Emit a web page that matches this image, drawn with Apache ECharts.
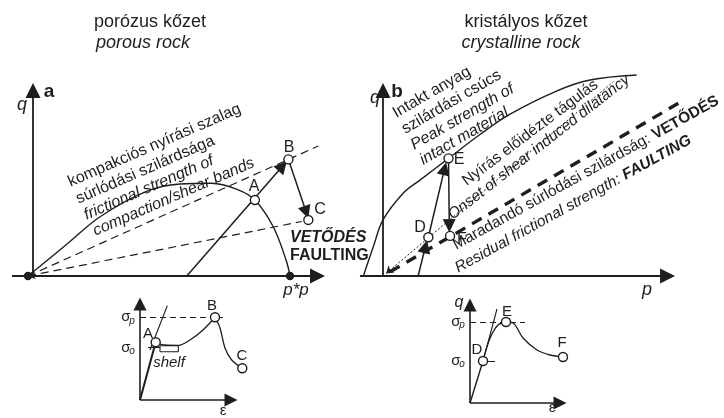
<!DOCTYPE html>
<html>
<head>
<meta charset="utf-8">
<script src="https://cdn.jsdelivr.net/npm/echarts@6/dist/echarts.min.js"></script>
<style>
html, body { margin: 0; padding: 0; background: #fff; }
#main { width: 724px; height: 418px; }
</style>
</head>
<body>
<div id="main"></div>
<script>
var INK = '#1e1e1e';
var FONT = '"Liberation Sans", Arial, sans-serif';

// ---- panel a: porous rock (p and q scaled by p*) ----
var axisA = [[[-0.061, 0], [1.105, 0]], [[0.019, 0], [0.019, 0.708]]];
var capA = [[0, 0], [0.148, 0.121], [0.275, 0.226], [0.45, 0.322], [0.58, 0.351], [0.70, 0.354],
            [0.80, 0.330], [0.866, 0.29], [0.936, 0.188], [0.985, 0.061], [1, 0]];
var frictionA = [[[0, 0], [1.108, 0.496]], [[0, 0], [1.045, 0.208]]];
var pathA = [[[0.606, 0], [0.972, 0.42]], [[0.994, 0.445], [1.062, 0.243]]];
var pointsA = [[0.866, 0.29], [0.994, 0.445], [1.07, 0.214]];
var dotsA = [[0, 0], [1, 0]];

// ---- panel b: crystalline rock ----
var axisB = [[[-0.088, 0], [1.086, 0]], [[0, 0], [0, 0.708]]];
var peakB = [[-0.075, 0], [-0.037, 0.112], [0, 0.214], [0.077, 0.316], [0.141, 0.366], [0.25, 0.449],
             [0.37, 0.54], [0.48, 0.615], [0.66, 0.705], [0.79, 0.748], [0.968, 0.767]];
var dilatancyB = [[0.012, 0.01], [0.88, 0.742]];
var residualB = [[0.027, 0.016], [1.127, 0.659]];
var pathB = [[[0.134, 0], [0.162, 0.112]], [[0.173, 0.148], [0.235, 0.41]], [[0.25, 0.449], [0.253, 0.192]]];
var pointsB = [[0.173, 0.148], [0.25, 0.449], [0.256, 0.153]];

// ---- small q-epsilon sketches ----
var insetAxisA = [[[0, 0], [0.91, 0]], [[0, 0], [0, 0.96]]];
var riseA = [[0, 0], [0.157, 0.577]];
var hardenA = [[0.157, 0.577], [0.25, 0.55], [0.383, 0.547], [0.5, 0.6], [0.63, 0.7], [0.75, 0.827]];
var softenA = [[0.75, 0.827], [0.80, 0.72], [0.85, 0.52], [0.917, 0.40], [1.023, 0.317]];
var tangentA = [[0.10, 0.50], [0.273, 0.943]];
var tickA = [[0.08, 0.523], [0.20, 0.523]];
var shelfA = [[0.20, 0.483], [0.383, 0.483], [0.383, 0.543], [0.20, 0.543], [0.20, 0.483]];
var sigmaPA = [[0, 0.827], [0.83, 0.827]];
var insetPointsA = [[0.157, 0.577], [0.75, 0.827], [1.023, 0.317]];

var insetAxisB = [[[0, 0], [0.90, 0]], [[0, 0], [0, 0.98]]];
var riseB = [[0, 0], [0.13, 0.42]];
var hardenB = [[0.13, 0.42], [0.20, 0.647], [0.28, 0.78], [0.36, 0.81]];
var softenB = [[0.36, 0.81], [0.43, 0.80], [0.53, 0.65], [0.67, 0.53], [0.80, 0.48], [0.93, 0.46]];
var tangentB = [[0.13, 0.42], [0.27, 0.94]];
var tickB = [[0.13, 0.42], [0.25, 0.42]];
var sigmaPB = [[0, 0.81], [0.55, 0.81]];
var insetPointsB = [[0.13, 0.42], [0.36, 0.81], [0.93, 0.46]];

var chart = echarts.init(document.getElementById('main'), null, { renderer: 'canvas' });

function segs(gi, list, style, sym, size) {
    return {
        type: 'lines', coordinateSystem: 'cartesian2d', xAxisIndex: gi, yAxisIndex: gi,
        data: list.map(function (c) { return { coords: c }; }),
        lineStyle: Object.assign({ color: INK, width: 1.5, opacity: 1, curveness: 0 }, style),
        symbol: sym || 'none', symbolSize: size || 10, silent: true, z: 3
    };
}
function curve(gi, data, width, type) {
    return {
        type: 'line', xAxisIndex: gi, yAxisIndex: gi, data: data, smooth: 0.35,
        showSymbol: false, symbol: 'none', silent: true, clip: false, z: 2,
        lineStyle: { color: INK, width: width || 1.4, type: type || 'solid' }
    };
}
function dots(gi, data, size, fill) {
    return {
        type: 'scatter', xAxisIndex: gi, yAxisIndex: gi, data: data, symbolSize: size,
        silent: true, z: 6,
        itemStyle: { color: fill, borderColor: INK, borderWidth: 1.4, opacity: 1 }
    };
}

function rich(size) {
    return {
        n: { fontSize: size, fontFamily: FONT, fill: INK },
        i: { fontSize: size, fontFamily: FONT, fontStyle: 'italic', fill: INK },
        b: { fontSize: size, fontFamily: FONT, fontWeight: 'bold', fill: INK },
        bi: { fontSize: size, fontFamily: FONT, fontWeight: 'bold', fontStyle: 'italic', fill: INK }
    };
}
function label(text, x, y, size, align, rot) {
    var va = rot ? 'bottom' : 'middle';
    return {
        type: 'text', x: x, y: y, rotation: (rot || 0) * Math.PI / 180, silent: true, z: 10,
        style: {
            text: text, fill: INK, fontSize: size, fontFamily: FONT,
            align: align || 'center', verticalAlign: va,
            textAlign: align || 'center', textVerticalAlign: va,
            rich: rich(size)
        }
    };
}

var texts = [
    label('{n|porózus kőzet}', 150, 22, 18),
    label('{i|porous rock}', 143, 43, 18),
    label('{n|kristályos kőzet}', 526, 22, 18),
    label('{i|crystalline rock}', 521, 43, 18),

    label('{i|q}', 22, 105, 18),
    label('{b|a}', 49, 92, 19),
    label('{n|A}', 254, 187, 16),
    label('{n|B}', 289, 148, 16),
    label('{n|C}', 320, 210, 16),
    label('{bi|VETŐDÉS}', 290, 238, 16, 'left'),
    label('{b|FAULTING}', 290, 256, 16, 'left'),
    label('{i|p*p}', 296, 290, 17),
    label('{n|kompakciós nyírási szalag}', 72, 190, 16, 'left', 23.5),
    label('{n|súrlódási szilárdsága}', 80, 207, 16, 'left', 23.5),
    label('{i|frictional strength of}', 88, 223, 16, 'left', 23.5),
    label('{i|compaction/shear bands}', 97, 239, 16, 'left', 23.5),

    label('{i|q}', 375, 98, 18),
    label('{b|b}', 397, 92, 19),
    label('{i|p}', 647, 290, 18),
    label('{n|D}', 420, 228, 16),
    label('{n|E}', 459, 160, 16),
    label('{n|F}', 462, 240, 16),
    label('{n|Intakt anyag}', 398, 121, 16, 'left', 30),
    label('{n|szilárdási csúcs}', 407, 137, 16, 'left', 30),
    label('{i|Peak strength of}', 416, 153, 16, 'left', 30),
    label('{i|intact material}', 425, 168, 16, 'left', 30),
    label('{n|Nyírás előidézte tágulás}', 469, 189, 15.5, 'left', 37),
    label('{i|Onset of shear induced dilatancy}', 455, 223, 15.5, 'left', 38),
    label('{n|Maradandó súrlódási szilárdság: }{b|VETŐDÉS}', 458, 253, 15.5, 'left', 29),
    label('{i|Residual frictional strength: }{bi|FAULTING}', 460, 276, 15.5, 'left', 29),

    label('{n|σ}', 126, 317, 15),
    label('{i|p}', 132, 321, 10),
    label('{n|σ}', 126, 348, 15),
    label('{i|o}', 132, 351, 10),
    label('{n|A}', 148, 334, 15),
    label('{n|B}', 212, 306, 15),
    label('{n|C}', 242, 356, 15),
    label('{i|shelf}', 169, 363, 15),
    label('{n|ε}', 223, 411, 15),

    label('{i|q}', 459, 303, 16),
    label('{n|σ}', 456, 322, 15),
    label('{i|p}', 462, 325, 10),
    label('{n|σ}', 456, 361, 15),
    label('{i|o}', 462, 364, 10),
    label('{n|D}', 477, 350, 15),
    label('{n|E}', 507, 312, 15),
    label('{n|F}', 562, 343, 15),
    label('{n|ε}', 552, 408, 15)
];

function ax(min, max) {
    return { type: 'value', min: min, max: max, show: false, splitLine: { show: false } };
}

chart.setOption({
    animation: false,
    backgroundColor: '#fff',
    grid: [
        { left: 1.8, top: 79.5, width: 340.6, height: 222.7 },
        { left: 356.8, top: 66.4, width: 353.7, height: 235.8 },
        { left: 120, top: 290, width: 140, height: 120 },
        { left: 450, top: 293, width: 140, height: 120 }
    ],
    xAxis: [ax(-0.1, 1.2), ax(-0.1, 1.25), ax(-0.2, 1.2), ax(-0.2, 1.2)].map(function (a, i) { a.gridIndex = i; return a; }),
    yAxis: [ax(-0.1, 0.75), ax(-0.1, 0.8), ax(-0.1, 1.1), ax(-0.1, 1.1)].map(function (a, i) { a.gridIndex = i; return a; }),
    graphic: texts,
    series: [
        // panel a
        segs(0, axisA, { width: 1.8 }, ['none', 'triangle'], [0, 15]),
        curve(0, capA, 1.4),
        segs(0, [frictionA[0]], { width: 1.2, type: [8, 5] }),
        segs(0, [frictionA[1]], { width: 1.2, type: [8, 5] }, ['arrow', 'none'], [7, 0]),
        segs(0, pathA, { width: 1.5 }, ['none', 'triangle'], [0, 13]),
        dots(0, pointsA, 9, '#fff'),
        dots(0, dotsA, 7, INK),
        // panel b
        segs(1, axisB, { width: 1.8 }, ['none', 'triangle'], [0, 15]),
        curve(1, peakB, 1.4),
        segs(1, [dilatancyB], { width: 1, type: [2, 2] }, ['arrow', 'none'], [7, 0]),
        segs(1, [residualB], { width: 3.4, type: [11, 8] }),
        segs(1, pathB, { width: 1.5 }, ['none', 'triangle'], [0, 13]),
        dots(1, pointsB, 9, '#fff'),
        // inset a
        segs(2, insetAxisA, { width: 1.6 }, ['none', 'triangle'], [0, 13]),
        segs(2, [riseA], { width: 2 }),
        segs(2, [tangentA, tickA], { width: 1.1 }),
        segs(2, [sigmaPA], { width: 1.1, type: [6, 4] }),
        { type: 'line', xAxisIndex: 2, yAxisIndex: 2, data: shelfA, showSymbol: false, symbol: 'none',
          silent: true, lineStyle: { color: INK, width: 1.1 }, z: 2 },
        curve(2, hardenA, 1.3),
        curve(2, softenA, 1.3),
        dots(2, insetPointsA, 9, '#fff'),
        // inset b
        segs(3, insetAxisB, { width: 1.6 }, ['none', 'triangle'], [0, 13]),
        segs(3, [riseB], { width: 1.4 }),
        segs(3, [tangentB, tickB], { width: 1.1 }),
        segs(3, [sigmaPB], { width: 1.1, type: [6, 4] }),
        curve(3, hardenB, 1.3),
        curve(3, softenB, 1.3),
        dots(3, insetPointsB, 9, '#fff')
    ]
});
</script>
</body>
</html>
